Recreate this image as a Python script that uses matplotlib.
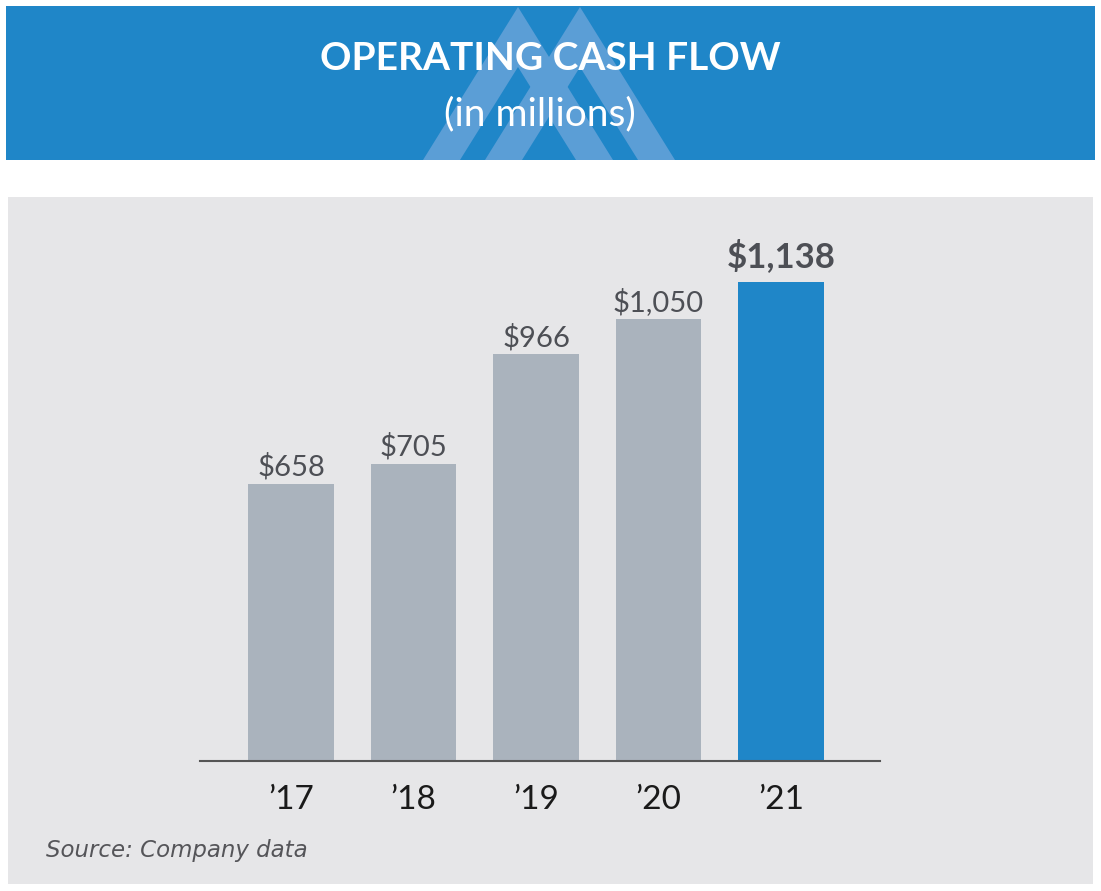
import matplotlib
matplotlib.use('Agg')
import matplotlib.pyplot as plt
from matplotlib.patches import Rectangle, Polygon

# data
years = ["\u201917", "\u201918", "\u201919", "\u201920", "\u201921"]
cash_flow = [658, 705, 966, 1050, 1138]
labels = ["$658", "$705", "$966", "$1,050", "$1,138"]

BLUE = '#1F86C8'
LIGHT_BLUE = '#5B9ED6'
GRAY_BAR = '#AAB3BD'
PANEL = '#E6E6E8'
TEXT = '#4D4F55'

W, H = 1101, 891
fig = plt.figure(figsize=(W / 100, H / 100), dpi=100)
fig.patch.set_facecolor('white')

# background layer in pixel coordinates
bg = fig.add_axes([0, 0, 1, 1])
bg.set_xlim(0, W)
bg.set_ylim(H, 0)
bg.axis('off')

bg.add_patch(Rectangle((6, 6), 1089, 154, facecolor=BLUE, edgecolor='none'))
bg.add_patch(Rectangle((8, 197), 1085, 687, facecolor=PANEL, edgecolor='none'))

# logo chevrons behind the title
for apex in (518, 580):
    bg.add_patch(Polygon([(apex - 95, 160), (apex, 7), (apex + 95, 160),
                          (apex + 58, 160), (apex, 67), (apex - 58, 160)],
                         closed=True, facecolor=LIGHT_BLUE, edgecolor='none'))

bg.text(550, 59, 'OPERATING CASH FLOW', ha='center', va='center',
        color='white', fontsize=28, fontweight='bold', family='Lato')
bg.text(540, 114, '(in millions)', ha='center', va='center',
        color='white', fontsize=28, family='Lato')

bg.text(46, 850, 'Source: Company data', ha='left', va='center',
        color='#555559', fontsize=16.5, style='italic', family='DejaVu Sans')

# bar chart
ax = fig.add_axes([200 / W, 1 - 761 / H, 680 / W, 505 / H])
ax.patch.set_alpha(0)
x = list(range(len(years)))
colors = [GRAY_BAR] * (len(years) - 1) + [BLUE]
bars = ax.bar(x, cash_flow, width=0.70, color=colors)
ax.set_xlim(-0.743, 4.808)
ax.set_ylim(0, 1200)

for i, (b, lab) in enumerate(zip(bars, labels)):
    last = i == len(labels) - 1
    ax.text(b.get_x() + b.get_width() / 2, b.get_height() + (22 if last else 8), lab,
            ha='center', va='bottom', color=TEXT,
            fontsize=25 if last else 21, fontweight='bold' if last else 'normal',
            family='Lato')

for s in ['top', 'right', 'left']:
    ax.spines[s].set_visible(False)
ax.spines['bottom'].set_color('#555555')
ax.spines['bottom'].set_linewidth(1.5)
ax.set_yticks([])
ax.set_xticks(x)
ax.set_xticklabels(years, fontsize=24, color='#1A1A1A', family='Lato')
ax.tick_params(axis='x', length=0, pad=17)

fig.savefig('out.png', dpi=100)
